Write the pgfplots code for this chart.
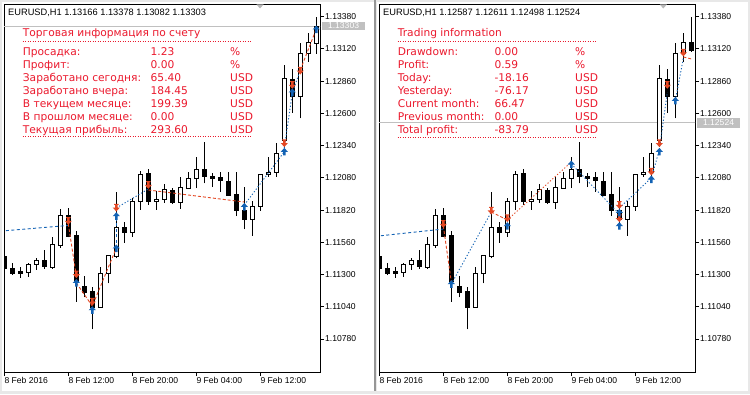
\documentclass[border=0pt]{standalone}
\usepackage{fontspec}
\setmainfont{Liberation Sans}
\newfontfamily\dvs{DejaVu Sans}
\usepackage{pgfplots}
\usepackage{pgfplotstable}
\pgfplotsset{compat=1.18}

\definecolor{infored}{RGB}{235,25,45}
\definecolor{sellred}{RGB}{228,72,36}
\definecolor{buyblue}{RGB}{18,98,180}
\definecolor{winbg}{RGB}{232,232,232}
\definecolor{sepgray}{RGB}{150,150,150}
\definecolor{bidgray}{RGB}{192,192,192}

\pgfdeclareplotmark{buyarrow}{%
 \pgfpathmoveto{\pgfqpoint{0pt}{3.8pt}}%
 \pgfpathlineto{\pgfqpoint{3.6pt}{-0.2pt}}%
 \pgfpathlineto{\pgfqpoint{1.2pt}{-0.2pt}}%
 \pgfpathlineto{\pgfqpoint{1.2pt}{-3.8pt}}%
 \pgfpathlineto{\pgfqpoint{-1.2pt}{-3.8pt}}%
 \pgfpathlineto{\pgfqpoint{-1.2pt}{-0.2pt}}%
 \pgfpathlineto{\pgfqpoint{-3.6pt}{-0.2pt}}%
 \pgfpathclose
 \pgfusepathqfill}
\pgfdeclareplotmark{sellarrow}{%
 \pgfpathmoveto{\pgfqpoint{-2.2pt}{3.8pt}}%
 \pgfpathlineto{\pgfqpoint{2.2pt}{3.8pt}}%
 \pgfpathlineto{\pgfqpoint{2.2pt}{2.8pt}}%
 \pgfpathlineto{\pgfqpoint{1.2pt}{2.8pt}}%
 \pgfpathlineto{\pgfqpoint{1.2pt}{0.2pt}}%
 \pgfpathlineto{\pgfqpoint{3.6pt}{0.2pt}}%
 \pgfpathlineto{\pgfqpoint{0pt}{-3.8pt}}%
 \pgfpathlineto{\pgfqpoint{-3.6pt}{0.2pt}}%
 \pgfpathlineto{\pgfqpoint{-1.2pt}{0.2pt}}%
 \pgfpathlineto{\pgfqpoint{-1.2pt}{2.8pt}}%
 \pgfpathlineto{\pgfqpoint{-2.2pt}{2.8pt}}%
 \pgfpathclose
 \pgfusepathqfill}

% EURUSD H1 candles: hour since 8 Feb 00:00, open, high, low, close
\pgfplotstableread{
t o h l c
4 1.11444 1.11446 1.11345 1.11349
5 1.11350 1.11393 1.11296 1.11308
6 1.11323 1.11358 1.11275 1.11310
7 1.11315 1.11396 1.11283 1.11385
8 1.11381 1.11436 1.11337 1.11417
9 1.11417 1.11498 1.11345 1.11363
10 1.11355 1.11605 1.11345 1.11546
11 1.11533 1.11829 1.11517 1.11780
12 1.11780 1.11834 1.11600 1.11607
13 1.11619 1.11651 1.11081 1.11248
14 1.11208 1.11288 1.11116 1.11154
15 1.11162 1.11202 1.10858 1.11032
16 1.11036 1.11363 1.11036 1.11310
17 1.11310 1.11450 1.11229 1.11450
18 1.11444 1.11968 1.11431 1.11681
19 1.11681 1.11724 1.11557 1.11638
20 1.11638 1.11915 1.11605 1.11888
21 1.11888 1.12138 1.11821 1.12111
22 1.12119 1.12149 1.11861 1.11888
23 1.11888 1.11974 1.11821 1.11907
24 1.11907 1.12030 1.11880 1.11988
25 1.11982 1.11996 1.11867 1.11880
26 1.11883 1.12089 1.11829 1.12004
27 1.11996 1.12130 1.11996 1.12076
28 1.12076 1.12251 1.11996 1.12149
29 1.12149 1.12372 1.12036 1.12089
30 1.12095 1.12123 1.12006 1.12076
31 1.12081 1.12125 1.11968 1.12057
32 1.12051 1.12125 1.11936 1.11936
33 1.11942 1.12125 1.11772 1.11815
34 1.11813 1.12009 1.11665 1.11746
35 1.11746 1.11893 1.11613 1.11851
36 1.11847 1.12111 1.11815 1.12111
37 1.12109 1.12246 1.12089 1.12127
38 1.12125 1.12359 1.12089 1.12278
39 1.12385 1.12990 1.12331 1.12883
40 1.12877 1.12956 1.12603 1.12735
41 1.12735 1.13170 1.12560 1.13085
42 1.13085 1.13246 1.13017 1.13170
}\candles
\pgfplotstableread{
t o h l c
43 1.13166 1.13378 1.13082 1.13303
}\lastL
\pgfplotstableread{
t o h l c
43 1.13170 1.13380 1.13098 1.13106
}\lastR

\newcommand\drawcandles[1]{%
 \pgfplotstablegetrowsof{#1}%
 \pgfmathtruncatemacro\nlast{\pgfplotsretval-1}%
 \pgfplotsforeachungrouped \i in {0,...,\nlast}{%
  \pgfplotstablegetelem{\i}{t}\of#1\let\vt\pgfplotsretval
  \pgfplotstablegetelem{\i}{o}\of#1\let\vo\pgfplotsretval
  \pgfplotstablegetelem{\i}{h}\of#1\let\vh\pgfplotsretval
  \pgfplotstablegetelem{\i}{l}\of#1\let\vl\pgfplotsretval
  \pgfplotstablegetelem{\i}{c}\of#1\let\vc\pgfplotsretval
  \pgfmathsetmacro\xa{\vt-0.27}%
  \pgfmathsetmacro\xb{\vt+0.27}%
  \ifdim\vc pt>\vo pt \def\vf{white}\else\def\vf{black}\fi
  \edef\tmp{%
   \noexpand\addplot[black, line width=0.9bp] coordinates {(\vt,\vl) (\vt,\vh)};
   \noexpand\addplot[draw=black, fill=\vf, line width=0.9bp] coordinates {(\xa,\vo) (\xb,\vo) (\xb,\vc) (\xa,\vc)} -- cycle;}%
  \tmp
 }%
}

\pgfplotsset{
 buydash/.style={buyblue, line width=0.9bp, dash pattern=on 3bp off 2.5bp},
 buydot/.style={buyblue, line width=0.9bp, dash pattern=on 1.2bp off 2bp},
 selldash/.style={sellred, line width=0.9bp, dash pattern=on 3bp off 2bp},
 sellmk/.style={only marks, mark=sellarrow, color=sellred},
 buymk/.style={only marks, mark=buyarrow, color=buyblue},
 mtaxis/.style={
  scale only axis, width=316bp, height=368bp, anchor=south west,
  xmin=3.96, xmax=43.46, ymin=1.10514, ymax=1.13482,
  axis line style={line width=0.9bp, black},
  tick align=outside, major tick length=4bp,
  tick style={black, line width=0.8bp},
  xtick pos=bottom, ytick pos=right, yticklabel pos=right,
  xtick={4,12,20,28,36},
  xticklabels={8 Feb 2016,8 Feb 12:00,8 Feb 20:00,9 Feb 04:00,9 Feb 12:00},
  ytick={1.10780,1.11040,1.11300,1.11560,1.11820,1.12080,1.12340,1.12600,1.12860,1.13120,1.13380},
  yticklabels={1.10780,1.11040,1.11300,1.11560,1.11820,1.12080,1.12340,1.12600,1.12860,1.13120,1.13380},
  ticklabel style={font=\fontsize{8.6}{10}\selectfont, inner sep=0pt},
  xticklabel style={anchor=north west, yshift=-1bp},
  yticklabel style={anchor=west, xshift=1bp},
  clip=true,
 },
}

\begin{document}
\begin{tikzpicture}[x=1bp,y=1bp]
\useasboundingbox (0,0) rectangle (750,394);
\fill[winbg] (0,0) rectangle (750,394);
\fill[white] (2,3) rectangle (374,392);
\fill[white] (377,3) rectangle (748,392);
\fill[sepgray] (374.3,3) rectangle (376.3,394);

% ---------------- left chart ----------------
\begin{axis}[mtaxis, at={(4bp,22bp)}]
 \addplot[bidgray, line width=0.8bp] coordinates {(3,1.13303) (44,1.13303)};
 \drawcandles{\candles}
 \drawcandles{\lastL}
 \addplot[buydash] coordinates {(3.5,1.11650) (12,1.11696)};
 \addplot[selldash] coordinates {(12,1.11708) (13,1.11288)};
 \addplot[selldash] coordinates {(13,1.11232) (15,1.11046) (18,1.11514)};
 \addplot[buydash] coordinates {(18,1.11514) (18,1.11772)};
 \addplot[buydot] coordinates {(18,1.11837) (22,1.11990)};
 \addplot[selldash] coordinates {(22,1.11982) (34,1.11885)};
 \addplot[buydot] coordinates {(34,1.11861) (39,1.12291)};
 \addplot[buydot] coordinates {(39,1.12321) (40,1.12765) (41,1.12950)};
 \addplot[selldash] coordinates {(41,1.12950) (43,1.13281)};
 \addplot[sellmk] coordinates {(12,1.11732) (13,1.11302) (15,1.11081) (18,1.11839) (22,1.12022) (39,1.12359) (40,1.12829) (41,1.12944)};
 \addplot[buymk] coordinates {(13,1.11234) (15,1.11014) (18,1.11772) (18,1.11512) (34,1.11847) (39,1.12291) (40,1.12770) (43,1.13278)};
\end{axis}

% ---------------- right chart ----------------
\begin{axis}[mtaxis, at={(379bp,22bp)}]
 \addplot[bidgray, line width=0.8bp] coordinates {(3,1.12524) (44,1.12524)};
 \drawcandles{\candles}
 \drawcandles{\lastR}
 \addplot[buydash] coordinates {(3.5,1.11608) (12,1.11667)};
 \addplot[selldash] coordinates {(12,1.11692) (13,1.11240)};
 \addplot[buydot] coordinates {(13,1.11224) (18,1.11805)};
 \addplot[selldash] coordinates {(18,1.11805) (20,1.11740)};
 \addplot[buydot, sellred] coordinates {(20,1.11740) (28,1.12208)};
 \addplot[buydot] coordinates {(28,1.12192) (34,1.11788)};
 \addplot[buydot] coordinates {(34,1.11837) (38,1.12079) (39,1.12305) (40,1.12770)};
 \addplot[buydot] coordinates {(41,1.12702) (42,1.13044)};
 \addplot[selldash] coordinates {(42,1.13055) (43,1.13039)};
 \addplot[sellmk] coordinates {(12,1.11708) (18,1.11815) (20,1.11754) (34,1.11861) (34,1.11754) (38,1.12130) (39,1.12359) (40,1.12829) (42,1.13090)};
 \addplot[buymk] coordinates {(13,1.11224) (20,1.11692) (28,1.12189) (34,1.11799) (34,1.11692) (38,1.12068) (39,1.12291) (41,1.12702)};
\end{axis}

% chart headers, shift markers and price labels
\node[anchor=base west, inner sep=0pt, font=\fontsize{9.3}{11}\selectfont] at (8,378.3) {EURUSD,H1 1.13166 1.13378 1.13082 1.13303};
\node[anchor=base west, inner sep=0pt, font=\fontsize{9.3}{11}\selectfont] at (383,378.3) {EURUSD,H1 1.12587 1.12611 1.12498 1.12524};
\fill[gray!55] (256.5,389.5) -- (263.5,389.5) -- (260,385.5) -- cycle;
\fill[gray!55] (659.8,389.5) -- (666.8,389.5) -- (663.3,385.5) -- cycle;
\node[fill=bidgray, text=white, inner sep=0pt, minimum width=43.3bp, minimum height=8.8bp, anchor=west, font=\fontsize{8.6}{10}\selectfont] at (321.7,368) {1.13303};
\node[fill=bidgray, text=white, inner sep=0pt, minimum width=43.3bp, minimum height=9.5bp, anchor=west, font=\fontsize{8.6}{10}\selectfont] at (696.7,271) {1.12524};

% ---------------- info panels ----------------
\begin{scope}[every node/.style={anchor=base west, inner sep=0pt, text=infored, font=\dvs\fontsize{10.7}{12}\selectfont}]
 \node at (22.7,358) {Торговая информация по счету};
 \draw[infored, line width=0.8bp, dash pattern=on 1bp off 1.5bp] (22.7,352.3) -- (250.7,352.3);
 \draw[infored, line width=0.8bp, dash pattern=on 1bp off 1.5bp] (22.7,257.3) -- (250.7,257.3);
 \node at (22.7,338.7) {Просадка:};          \node at (150.5,338.7) {1.23};   \node at (230,338.7) {\%};
 \node at (22.7,325.7) {Профит:};            \node at (150.5,325.7) {0.00};   \node at (230,325.7) {\%};
 \node at (22.7,312.7) {Заработано сегодня:};\node at (150.5,312.7) {65.40};  \node at (230,312.7) {USD};
 \node at (22.7,299.7) {Заработано вчера:};  \node at (150.5,299.7) {184.45}; \node at (230,299.7) {USD};
 \node at (22.7,286.7) {В текущем месяце:};  \node at (150.5,286.7) {199.39}; \node at (230,286.7) {USD};
 \node at (22.7,273.7) {В прошлом месяце:};  \node at (150.5,273.7) {0.00};   \node at (230,273.7) {USD};
 \node at (22.7,260.7) {Текущая прибыль:};   \node at (150.5,260.7) {293.60}; \node at (230,260.7) {USD};

 \node at (397.7,358) {Trading information};
 \draw[infored, line width=0.8bp, dash pattern=on 1bp off 1.5bp] (397.7,352.3) -- (596,352.3);
 \draw[infored, line width=0.8bp, dash pattern=on 1bp off 1.5bp] (397.7,256.7) -- (596,256.7);
 \node at (397.7,338.7) {Drawdown:};       \node at (494.3,338.7) {0.00};   \node at (575,338.7) {\%};
 \node at (397.7,325.7) {Profit:};         \node at (494.3,325.7) {0.59};   \node at (575,325.7) {\%};
 \node at (397.7,312.7) {Today:};          \node at (494.3,312.7) {-18.16}; \node at (575,312.7) {USD};
 \node at (397.7,299.7) {Yesterday:};      \node at (494.3,299.7) {-76.17}; \node at (575,299.7) {USD};
 \node at (397.7,286.7) {Current month:};  \node at (494.3,286.7) {66.47};  \node at (575,286.7) {USD};
 \node at (397.7,273.7) {Previous month:}; \node at (494.3,273.7) {0.00};   \node at (575,273.7) {USD};
 \node at (397.7,260.7) {Total profit:};   \node at (494.3,260.7) {-83.79}; \node at (575,260.7) {USD};
\end{scope}
\end{tikzpicture}
\end{document}
